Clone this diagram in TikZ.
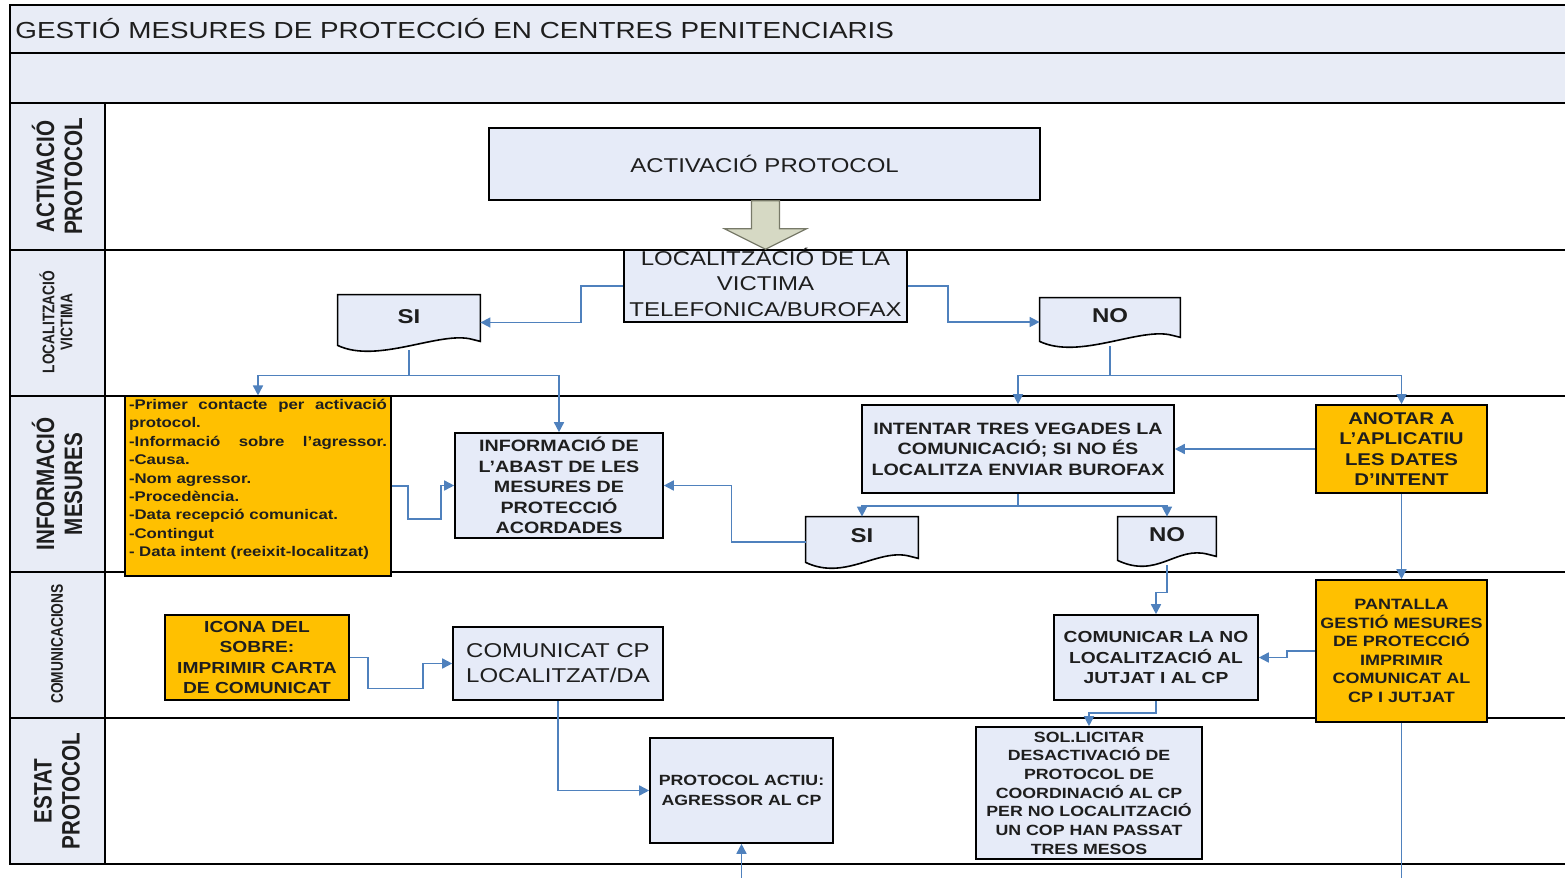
\documentclass[tikz,border=0pt]{standalone}
\usepackage{fontspec}
\setmainfont{Liberation Sans}[FakeStretch=1.2]
\newfontfamily\lanefont{Liberation Sans}[FakeStretch=0.82]
\usetikzlibrary{arrows.meta,calc,backgrounds}
\definecolor{bandfill}{RGB}{232,236,246}
\definecolor{boxfill}{RGB}{230,235,248}
\definecolor{myorange}{RGB}{255,192,0}
\definecolor{linkblue}{RGB}{79,129,189}
\definecolor{arrowfill}{RGB}{214,217,196}
\definecolor{arrowgray}{RGB}{120,122,105}
\definecolor{txt}{RGB}{30,30,30}
\tikzset{
  lane/.style={draw=black, line width=0.8pt},
  lanehead/.style={lane, fill=bandfill},
  lanetext/.style={rotate=90, align=center, text=txt, font=\lanefont\bfseries\fontsize{12.6}{14}\selectfont},
  lanesmall/.style={lanetext, font=\lanefont\bfseries\fontsize{8.4}{9}\selectfont},
  box/.style={draw=black, line width=0.8pt, fill=boxfill, align=center, inner sep=1pt, text=txt},
  orangebox/.style={box, fill=myorange},
  docnode/.style={inner sep=0pt, text height=7pt, text depth=6.5pt, text=txt, font=\bfseries\fontsize{10}{12}\selectfont},
  link/.style={draw=linkblue, line width=0.8pt, -{Triangle[length=5pt, width=5pt]}},
  plainlink/.style={draw=linkblue, line width=0.8pt},
  bigarrow/.style={draw=arrowgray, fill=arrowfill, line width=0.6pt},
}
% outline of a document shape (wavy bottom)
\newcommand{\docframe}[1]{%
  \draw[line width=0.8pt, fill=boxfill] (#1.north west) -- (#1.north east)
    -- ($(#1.south east)+(0,-9)$) -- ($(#1.south east)+(-8,-11)$)
    .. controls ($(#1.south east)+(-40,-20)$) and ($(#1.south west)+(40,14)$) .. ($(#1.south west)+(0,-5)$)
    -- cycle;}

\begin{document}
\begin{tikzpicture}[x=0.5pt, y=-0.5pt]
        \useasboundingbox (0,0) rectangle (1565,878);
        \clip (0,0) rectangle (1565,878);

        % Title bands
        \draw[lanehead] (10,5) rectangle (1580,53);
        \node[anchor=west, inner sep=0pt, text=txt, font=\fontsize{11.6}{14}\selectfont] (title) at (15,29) {GESTIÓ MESURES DE PROTECCIÓ EN CENTRES PENITENCIARIS};
        \draw[lanehead] (10,53) rectangle (1580,103);

        % Lanes
        \draw[lanehead] (10,103) rectangle (105,250);
        \draw[lane] (105,103) rectangle (1580,250);
        \draw[lanehead] (10,250) rectangle (105,396);
        \draw[lane] (105,250) rectangle (1580,396);
        \draw[lanehead] (10,396) rectangle (105,572);
        \draw[lane] (105,396) rectangle (1580,572);
        \draw[lanehead] (10,572) rectangle (105,718);
        \draw[lane] (105,572) rectangle (1580,718);
        \draw[lanehead] (10,718) rectangle (105,864);
        \draw[lane] (105,718) rectangle (1580,864);

        \node[lanetext] (lact) at (57,176.5) {ACTIVACIÓ\\PROTOCOL};
        \node[lanesmall] (lloc) at (56,322) {LOCALITZACIÓ\\VICTIMA};
        \node[lanetext] (linf) at (57,484) {INFORMACIÓ\\MESURES};
        \node[lanesmall] (lcom) at (57,644) {COMUNICACIONS};
        \node[lanetext] (lest) at (57,791) {ESTAT\\PROTOCOL};

        % Activacio / localitzacio
        \node[box, minimum width=275.5pt, minimum height=36pt, font=\fontsize{10}{12}\selectfont] (act) at (764.5,164) {ACTIVACIÓ PROTOCOL};
        \node[box, minimum width=141.5pt, minimum height=36pt] (loc) at (765.5,286) {};
        \node[inner sep=0pt, align=center, text=txt, font=\fontsize{10}{12.75}\selectfont] (loctext) at ($(loc)+(0,-4)$) {LOCALITZACIÓ DE LA\\VICTIMA\\TELEFONICA/BUROFAX};
        \draw[bigarrow] ($(act.south)+(-13,0)$) -- ++(0,28) -- ++(-27,0) -- (loc.north)
            -- ($(act.south)+(42,28)$) -- ++(-27,0) -- ++(0,-28) -- cycle;

        % Documents SI / NO
        \node[docnode, minimum width=71pt, minimum height=27.5pt] (si1) at (409,322.5) {SI};
        \node[docnode, minimum width=70pt, minimum height=24pt] (no1) at (1110,322) {NO};
        \node[docnode, minimum width=56pt, minimum height=25pt] (si2) at (862,542) {SI};
        \node[docnode, minimum width=49pt, minimum height=24pt] (no2) at (1167,541) {NO};
        \begin{scope}[on background layer]
            \docframe{si1}
            \docframe{no1}
            \docframe{si2}
            \docframe{no2}
        \end{scope}

        % Informacio mesures
        \node[orangebox, minimum width=133pt, minimum height=89pt, text width=129pt, align=left, inner sep=1.5pt, font=\bfseries\fontsize{7}{9.2}\selectfont] (list) at (258,486)
            {-Primer\hfill contacte\hfill per\hfill activació\\protocol.\\-Informació\hfill sobre\hfill l'agressor.\\-Causa.\\-Nom agressor.\\-Procedència.\\-Data recepció comunicat.\\-Contingut\\- Data intent (reeixit-localitzat)\rule[-8pt]{0pt}{0pt}};
        \node[box, minimum width=104pt, minimum height=52.5pt, font=\bfseries\fontsize{8.2}{10.3}\selectfont] (info) at (559,485.5) {INFORMACIÓ DE\\L'ABAST DE LES\\MESURES DE\\PROTECCIÓ\\ACORDADES};
        \node[box, minimum width=156pt, minimum height=44pt, font=\bfseries\fontsize{8.2}{10.25}\selectfont] (intent) at (1018,449) {INTENTAR TRES VEGADES LA\\COMUNICACIÓ; SI NO ÉS\\LOCALITZA ENVIAR BUROFAX};
        \node[orangebox, minimum width=85.5pt, minimum height=44pt, font=\bfseries\fontsize{8.5}{10.25}\selectfont] (anotar) at (1401.5,449) {ANOTAR A\\L'APLICATIU\\LES DATES\\D'INTENT};

        % Comunicacions
        \node[orangebox, minimum width=92pt, minimum height=42.5pt, font=\bfseries\fontsize{8}{10.25}\selectfont] (icona) at (257,657.5) {ICONA DEL\\SOBRE:\\IMPRIMIR CARTA\\DE COMUNICAT};
        \node[box, minimum width=105pt, minimum height=36.5pt, font=\fontsize{10}{12.5}\selectfont] (comunicat) at (558,663.5) {COMUNICAT CP\\LOCALITZAT/DA};
        \node[box, minimum width=102pt, minimum height=42.5pt, font=\bfseries\fontsize{8}{10.25}\selectfont] (comunicar) at (1156,657.5) {COMUNICAR LA NO\\LOCALITZACIÓ AL\\JUTJAT I AL CP};
        \node[orangebox, minimum width=85.5pt, minimum height=71pt, font=\bfseries\fontsize{7.5}{9.3}\selectfont] (pantalla) at (1401.5,651) {PANTALLA\\GESTIÓ MESURES\\DE PROTECCIÓ\\IMPRIMIR\\COMUNICAT AL\\CP I JUTJAT};

        % Estat protocol
        \node[box, minimum width=91.5pt, minimum height=52.5pt, font=\bfseries\fontsize{7.4}{10}\selectfont] (actiu) at (741.5,790.5) {PROTOCOL ACTIU:\\AGRESSOR AL CP};
        \node[box, minimum width=113pt, minimum height=66pt, font=\bfseries\fontsize{7.4}{9.35}\selectfont] (solicitar) at (1089,793) {SOL.LICITAR\\DESACTIVACIÓ DE\\PROTOCOL DE\\COORDINACIÓ AL CP\\PER NO LOCALITZACIÓ\\UN COP HAN PASSAT\\TRES MESOS};

        % Connectors
        \coordinate (sisplit) at ($(si1.south)+(0,25)$);
        \coordinate (nosplit) at ($(no1.south)+(0,29)$);
        \coordinate (isplit) at ($(intent.south)+(0,12)$);
        \coordinate (belowA) at (741.5,900);
        \coordinate (belowP) at (1401.5,900);

        \draw[link] (loc.west) -- ++(-42,0) |- (si1.east);
        \draw[link] (loc.east) -- ++(40,0) |- (no1.west);
        \draw[plainlink] (si1.south) -- (sisplit);
        \draw[link] (sisplit) -| (list.north);
        \draw[link] (sisplit) -| (info.north);
        \draw[plainlink] (no1.south) -- (nosplit);
        \draw[link] (nosplit) -| (intent.north);
        \draw[link] (nosplit) -| (anotar.north);
        \draw[link] (list.east) -- ++(16,0) -- ++(0,33) -- ++(33,0) |- (info.west);
        \draw[link] (anotar.west) -- (intent.east);
        \draw[plainlink] (intent.south) -- (isplit);
        \draw[link] (isplit) -| (si2.north);
        \draw[link] (isplit) -| (no2.north);
        \draw[link] (si2.west) -- ++(-74,0) |- (info.east);
        \draw[link] (no2.south) -- ++(0,27) -| (comunicar.north);
        \draw[link] (anotar.south) -- (pantalla.north);
        \draw[link] (pantalla.west) -- ++(-28,0) |- (comunicar.east);
        \draw[link] (comunicar.south) -- ++(0,12) -| (solicitar.north);
        \draw[plainlink] (pantalla.south) -- (belowP);
        \draw[link] (icona.east) -- ++(18,0) -- ++(0,31) -- ++(55,0) |- (comunicat.west);
        \draw[link] (comunicat.south) |- (actiu.west);
        \draw[link] (belowA) -- (actiu.south);
    \end{tikzpicture}
\end{document}
